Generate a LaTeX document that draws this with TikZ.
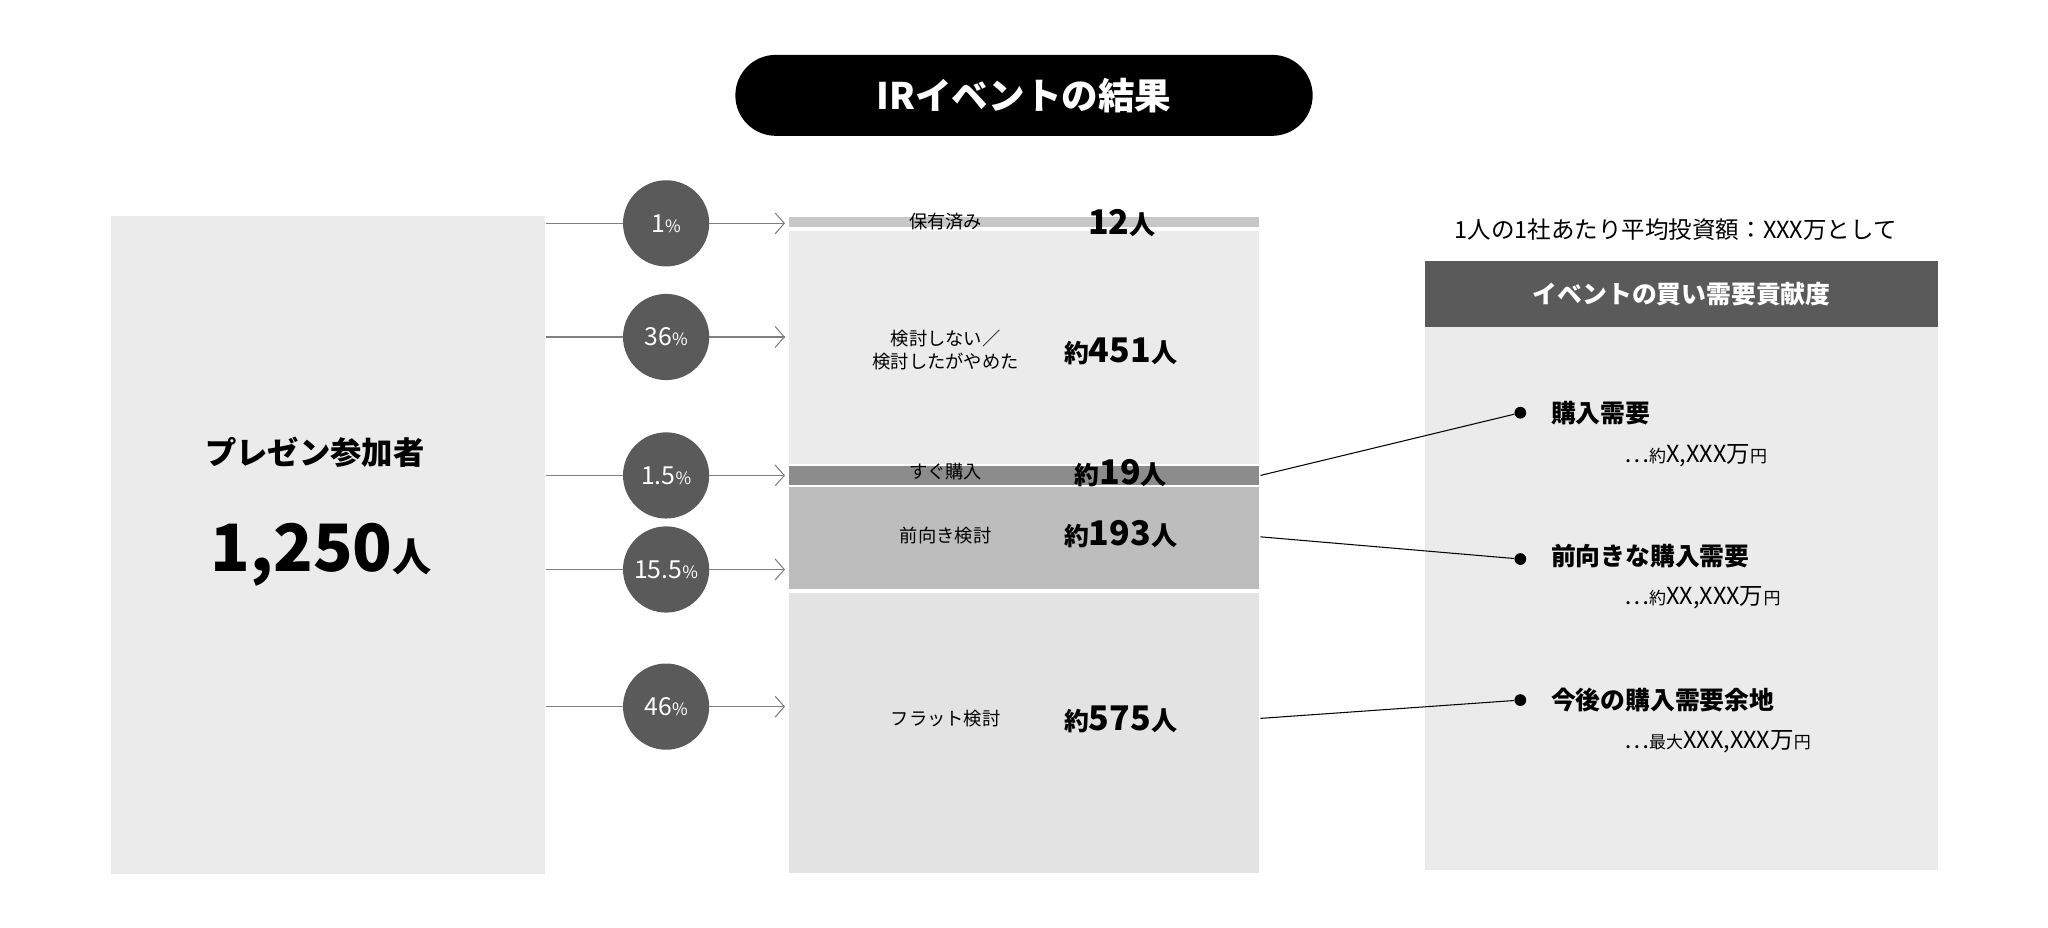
\documentclass[tikz,border=0pt]{standalone}
\usepackage{fontspec}
\setmainfont{Noto Sans CJK JP}
\usetikzlibrary{arrows.meta}
\definecolor{dgray}{HTML}{5A5A5A}
\definecolor{lgray}{HTML}{EBEBEB}
\newcommand{\fs}[1]{\fontsize{#1}{#1}\selectfont}
\tikzset{
  band/.style={fill=#1,draw=none},
  pct/.style={circle,fill=dgray,minimum size=66pt,inner sep=0pt,text=white,font=\fs{19}},
  lbl/.style={font=\fs{14},align=center},
  cnt/.style={font=\fs{26}\bfseries},
  feed/.style={draw=gray,line width=0.8pt},
  dot/.style={circle,fill=black,inner sep=0pt,minimum size=9pt},
  item/.style={anchor=west,font=\fs{19}\bfseries},
  sub/.style={anchor=west,font=\fs{18}}
}
\begin{document}
\begin{tikzpicture}[x=1pt,y=-1pt]
  \useasboundingbox (0,0) rectangle (1568,710);
  % title
  \node[fill=black,rounded corners=31pt,minimum width=442pt,minimum height=62pt,
        text=white,font=\fs{28}\bfseries] (title) at (784,73) {IRイベントの結果};

  % left block
  \fill[lgray] (85,165) rectangle (417,669);
  \node[font=\fs{24}\bfseries] (who) at (241,346) {プレゼン参加者};
  \node[font=\bfseries] (total) at (246,425) {\fs{50}1,250\fs{30}人};

  % middle bands
  \fill[band={black!22}] (604,166) rectangle (964,174);
  \fill[band=lgray] (604,177) rectangle (964,355);
  \fill[band={black!45}] (604,357) rectangle (964,371);
  \fill[band={black!26}] (604,373) rectangle (964,451);
  \fill[band={black!11}] (604,454) rectangle (964,668);

  \node[lbl] (l1) at (724,170) {保有済み};
  \node[lbl] (l2) at (724,268) {検討しない／\\[3pt]検討したがやめた};
  \node[lbl] (l3) at (724,361) {すぐ購入};
  \node[lbl] (l4) at (724,410) {前向き検討};
  \node[lbl] (l5) at (724,550) {フラット検討};

  \node[cnt] (c1) at (859,171) {12\fs{20}人};
  \node[cnt] (c2) at (858,269) {\fs{19}約\fs{26}451\fs{20}人};
  \node[cnt] (c3) at (858,362) {\fs{19}約\fs{26}19\fs{20}人};
  \node[cnt] (c4) at (858,409) {\fs{19}約\fs{26}193\fs{20}人};
  \node[cnt] (c5) at (858,551) {\fs{19}約\fs{26}575\fs{20}人};

  % percentages
  \foreach \n/\y/\t in {1/171/1, 2/258/36, 3/364/1.5, 4/436/15.5, 5/541/46}{
    \coordinate (s\n) at (418,\y);
    \coordinate (e\n) at (601,\y);
    \draw[feed] (s\n) -- (e\n);
    \draw[feed,-{Straight Barb[length=7pt,width=16pt]}] (560,\y) -- (e\n);
    \node[pct] (p\n) at (510,\y) {\t\fs{13}\%};
  }

  % right panel
  \node[font=\fs{18}] (note) at (1283,176) {1人の1社あたり平均投資額：XXX万として};
  \fill[lgray] (1091,250) rectangle (1484,666);
  \node[fill=dgray,minimum width=393pt,minimum height=50pt,text=white,
        font=\fs{19}\bfseries] (head) at (1287.5,225) {イベントの買い需要貢献度};

  \node[dot] (d1) at (1164,316) {};
  \node[dot] (d2) at (1164,428) {};
  \node[dot] (d3) at (1164,536) {};
  \coordinate (r1) at (965,364);
  \coordinate (r2) at (965,411);
  \coordinate (r3) at (965,550);
  \draw[thick] (r1) -- (d1);
  \draw[thick] (r2) -- (d2);
  \draw[thick] (r3) -- (d3);

  \node[item] (i1) at (1184,316) {購入需要};
  \node[item] (i2) at (1184,426) {前向きな購入需要};
  \node[item] (i3) at (1184,536) {今後の購入需要余地};
  \node[sub] (v1) at (1240,349) {⋯\fs{13}約\fs{18}X,XXX万\fs{13}円};
  \node[sub] (v2) at (1240,458) {⋯\fs{13}約\fs{18}XX,XXX万\fs{13}円};
  \node[sub] (v3) at (1240,568) {⋯\fs{13}最大\fs{18}XXX,XXX万\fs{13}円};
\end{tikzpicture}
\end{document}
